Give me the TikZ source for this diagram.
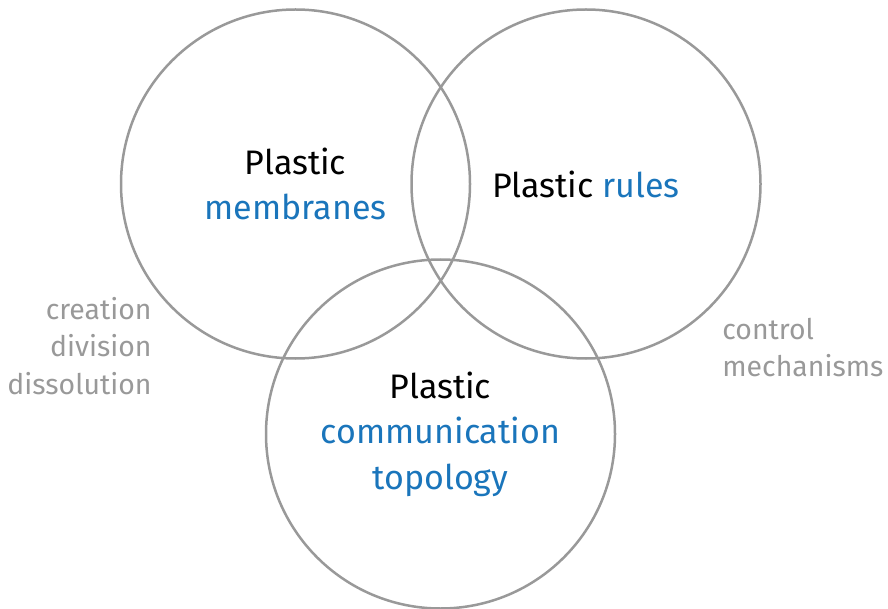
\documentclass[tikz,border=0pt]{standalone}
\usepackage{fontspec}
\setmainfont{Fira Sans}
\usepackage{xcolor}
\usepackage{tikz}
\usetikzlibrary{positioning}

\definecolor{ringgray}{HTML}{999999}
\definecolor{plasticblue}{HTML}{1A75BB}

\begin{document}
\begin{tikzpicture}[x=0.5pt, y=-0.5pt,
    ring/.style={circle, draw=ringgray, line width=1.25pt, minimum size=174.5pt,
        inner sep=0pt, align=center, font=\fontsize{17}{22.8}\selectfont},
    note/.style={text=ringgray, inner sep=0pt, font=\fontsize{14.2}{18.6}\selectfont}]
\useasboundingbox (0,0) rectangle (888,609);

% the three overlapping sets
\node (M) [ring] at (295.5,184) {Plastic\\ \textcolor{plasticblue}{membranes}};
\node (R) [ring] at (586,184) {Plastic \textcolor{plasticblue}{rules}};
\node (C) [ring] at (440.5,434) {Plastic\\ \textcolor{plasticblue}{communication}\\ \textcolor{plasticblue}{topology}};

% side remarks
\node (Mops) [note, align=right, anchor=east] at (152,346) {creation\\ division\\ dissolution};
\node (Rops) [note, align=left, anchor=west] at (722,347.5) {control\\ mechanisms};
\end{tikzpicture}
\end{document}
